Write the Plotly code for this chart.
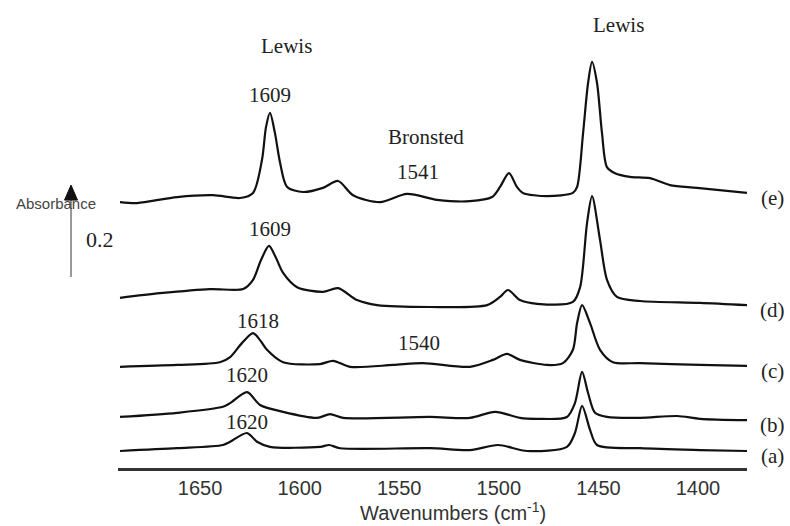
import plotly.graph_objects as go

# ---- data (wavenumber cm-1, stacked absorbance) ----
wn_e = [1690.2, 1681.6, 1661.5, 1643.5, 1629.9, 1623.4, 1618.9, 1616.9, 1614.9, 1612.4, 1609.8, 1606.3,
        1598.3, 1588.3, 1580.7, 1573.2, 1559.6, 1546.1, 1531.0, 1514.5, 1503.4, 1499.4, 1494.9, 1490.9,
        1487.9, 1475.8, 1462.8, 1460.7, 1457.7, 1455.2, 1453.2, 1450.7, 1448.2, 1445.7, 1441.7, 1434.1,
        1424.1, 1414.1, 1400.5, 1375.4]
abs_e = [0.578, 0.576, 0.589, 0.593, 0.587, 0.598, 0.670, 0.741, 0.772, 0.728, 0.663, 0.611,
         0.600, 0.609, 0.624, 0.593, 0.578, 0.596, 0.583, 0.580, 0.589, 0.611, 0.641, 0.611,
         0.598, 0.591, 0.598, 0.611, 0.728, 0.837, 0.883, 0.837, 0.728, 0.654, 0.641, 0.633,
         0.630, 0.615, 0.609, 0.598]

wn_d = [1690.2, 1670.1, 1645.0, 1628.4, 1623.4, 1619.4, 1615.4, 1611.9, 1608.3, 1601.3, 1588.3, 1580.7,
        1571.2, 1561.1, 1534.5, 1505.9, 1499.4, 1495.4, 1489.4, 1480.8, 1462.8, 1459.2, 1455.7, 1453.2,
        1449.2, 1445.7, 1440.7, 1429.1, 1399.0, 1375.4]
abs_d = [0.370, 0.380, 0.389, 0.389, 0.409, 0.452, 0.483, 0.457, 0.424, 0.393, 0.383, 0.391,
         0.365, 0.354, 0.350, 0.354, 0.372, 0.387, 0.365, 0.357, 0.361, 0.393, 0.533, 0.591,
         0.496, 0.409, 0.372, 0.363, 0.359, 0.354]

wn_c = [1690.2, 1661.5, 1640.0, 1634.9, 1628.9, 1623.4, 1619.9, 1616.4, 1608.3, 1589.8, 1583.2, 1574.7,
        1553.1, 1538.1, 1514.5, 1502.9, 1495.9, 1489.4, 1475.8, 1467.8, 1462.8, 1460.7, 1458.2, 1454.2,
        1449.2, 1442.7, 1429.1, 1399.0, 1375.4]
abs_c = [0.220, 0.224, 0.230, 0.241, 0.272, 0.293, 0.278, 0.257, 0.230, 0.226, 0.233, 0.220,
         0.224, 0.228, 0.220, 0.235, 0.248, 0.235, 0.224, 0.228, 0.257, 0.315, 0.354, 0.315,
         0.257, 0.230, 0.228, 0.224, 0.222]

wn_b = [1690.2, 1661.5, 1638.5, 1634.9, 1626.4, 1619.9, 1608.3, 1591.3, 1584.7, 1578.2, 1534.5, 1514.5,
        1501.9, 1489.4, 1480.8, 1465.8, 1461.8, 1458.2, 1455.2, 1451.7, 1445.7, 1429.1, 1410.5, 1399.0,
        1375.4]
abs_b = [0.111, 0.120, 0.133, 0.141, 0.165, 0.137, 0.122, 0.109, 0.117, 0.109, 0.111, 0.109,
         0.122, 0.109, 0.107, 0.111, 0.141, 0.209, 0.163, 0.120, 0.111, 0.109, 0.113, 0.107,
         0.104]

wn_a = [1690.2, 1661.5, 1638.5, 1634.9, 1626.4, 1621.4, 1614.9, 1589.8, 1585.2, 1579.7, 1534.5, 1514.5,
        1500.4, 1485.8, 1465.8, 1461.8, 1458.2, 1454.2, 1450.7, 1429.1, 1399.0, 1375.4]
abs_a = [0.037, 0.043, 0.050, 0.057, 0.076, 0.057, 0.046, 0.046, 0.050, 0.043, 0.043, 0.039,
         0.050, 0.037, 0.046, 0.076, 0.135, 0.083, 0.050, 0.043, 0.039, 0.037]

series_names = ["(a)", "(b)", "(c)", "(d)", "(e)"]
series_wn = [wn_a, wn_b, wn_c, wn_d, wn_e]
series_abs = [abs_a, abs_b, abs_c, abs_d, abs_e]

# peak annotations: (text, wavenumber, absorbance)
peak_texts = ["Lewis", "1609", "Bronsted", "1541", "Lewis", "1609", "1618", "1540", "1620", "1620"]
peak_wn = [1606.8, 1614.9, 1536.5, 1540.6, 1439.7, 1614.9, 1620.9, 1540.1, 1626.4, 1626.4]
peak_abs = [0.917, 0.811, 0.720, 0.643, 0.963, 0.520, 0.320, 0.272, 0.202, 0.100]

x_ticks = [1650, 1600, 1550, 1500, 1450, 1400]
x_range = [1691.2, 1375.4]
y_range = [0.0, 1.0]
scale_bar = 0.2
scale_bar_base = 0.415

SERIF = "Liberation Serif, Times New Roman, serif"
SANS = "Liberation Sans, Arial, sans-serif"

fig = go.Figure()
for name, xs, ys in zip(series_names, series_wn, series_abs):
    fig.add_trace(go.Scatter(x=xs, y=ys, mode="lines", name=name,
                             line=dict(color="#111111", width=2.2, shape="spline", smoothing=0.8),
                             showlegend=False, hoverinfo="skip"))
    fig.add_annotation(x=1.040, xref="paper", y=ys[-1], yref="y", text=name, showarrow=False,
                       xanchor="center", yanchor="middle", yshift=-5,
                       font=dict(family=SERIF, size=21, color="#222222"))

for t, xv, yv in zip(peak_texts, peak_wn, peak_abs):
    fig.add_annotation(x=xv, y=yv, xref="x", yref="y", text=t, showarrow=False,
                       xanchor="center", yanchor="middle",
                       font=dict(family=SERIF, size=21, color="#222222"))

# absorbance scale arrow (length = 0.2 absorbance units)
ax_x = -0.0747
head_h = 15 / 460
head_w = 6.5 / 629
fig.add_shape(type="line", xref="paper", yref="y", x0=ax_x, x1=ax_x,
              y0=scale_bar_base, y1=scale_bar_base + scale_bar - head_h,
              line=dict(color="#555555", width=1.2))
tip = scale_bar_base + scale_bar
fig.add_shape(type="path", xref="paper", yref="y",
              path=f"M {ax_x} {tip} L {ax_x - head_w} {tip - head_h} L {ax_x + head_w} {tip - head_h} Z",
              fillcolor="#111111", line=dict(color="#111111", width=1))
fig.add_annotation(x=-0.0986, xref="paper", y=0.576, yref="y", text="Absorbance", showarrow=False,
                   xanchor="center", yanchor="middle",
                   font=dict(family=SANS, size=15, color="#444444"))
fig.add_annotation(x=-0.0286, xref="paper", y=0.496, yref="y", text=f"{scale_bar}", showarrow=False,
                   xanchor="center", yanchor="middle",
                   font=dict(family=SERIF, size=22, color="#222222"))

# x-axis title
fig.add_annotation(x=0.533, xref="paper", y=-0.0945, yref="paper", xanchor="center", yanchor="middle",
                   text="Wavenumbers (cm<sup>-1</sup>)", showarrow=False,
                   font=dict(family=SANS, size=20, color="#333333"))

fig.update_layout(
    width=790, height=526,
    margin=dict(l=118, r=43, t=8, b=58),
    paper_bgcolor="white", plot_bgcolor="white",
    xaxis=dict(range=x_range, tickvals=x_ticks, ticktext=[str(v) for v in x_ticks],
               showgrid=False, zeroline=False, showline=True, linewidth=3, linecolor="#333333",
               ticks="", tickfont=dict(family=SANS, size=20, color="#333333")),
    yaxis=dict(range=y_range, visible=False, showgrid=False, zeroline=False),
)

fig.write_html("out.html", config={"displayModeBar": False},
               post_script="document.body.style.margin='0px';document.body.style.overflow='hidden';")
